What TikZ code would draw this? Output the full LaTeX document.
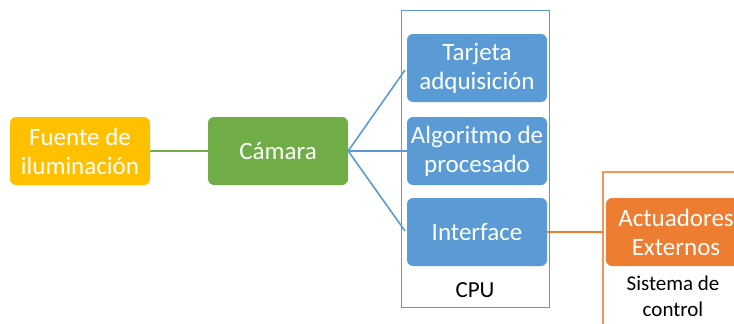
\documentclass[tikz,border=0pt]{standalone}
\usepackage{fontspec}
\setmainfont{Carlito}
\definecolor{lampyellow}{RGB}{255, 192, 0}
\definecolor{camgreen}{RGB}{112, 173, 71}
\definecolor{cpublue}{RGB}{91, 155, 213}
\definecolor{actorange}{RGB}{237, 125, 49}
\usetikzlibrary{positioning}

\begin{document}
\begin{tikzpicture}[x=1pt, y=-1pt,
    block/.style={rounded corners=6pt, minimum width=140pt, minimum height=68pt,
      align=center, text=white, font=\fontsize{25}{29}\selectfont, inner sep=0pt},
    caption/.style={align=center, text=black, inner sep=0pt},
    link/.style={line width=1.6pt}]
  \useasboundingbox (0, 0) rectangle (734, 324);
  \clip (0, 0) rectangle (734, 324);

  % Illumination and camera
  \node[block, fill=lampyellow] (fuente) at (80, 151) {Fuente de\\iluminación};
  \node[block, fill=camgreen] (camara) at (278, 151) {Cámara};
  \draw[link, camgreen] (fuente) -- (camara);

  % CPU frame with its three blocks
  \draw[cpublue, line width=1pt] (401, 10) rectangle (549, 307);
  \node[block, fill=cpublue] (tarjeta) at (477, 68) {Tarjeta\\adquisición};
  \node[block, fill=cpublue] (algoritmo) at (477, 151) {Algoritmo de\\procesado};
  \node[block, fill=cpublue] (interface) at (477, 232) {Interface};
  \node[caption, font=\fontsize{23}{28}\selectfont] (cpu) at (475, 290) {CPU};

  \coordinate (fan) at (camara.east);
  \draw[link, cpublue] (fan) -- (405, 70);
  \draw[link, cpublue] (fan) -- (algoritmo.west);
  \draw[link, cpublue] (fan) -- (405, 231);

  % Control system (runs off the page)
  \draw[actorange!80, line width=1.2pt] (603, 172) rectangle (770, 360);
  \node[block, fill=actorange] (actuadores) at (676, 232) {Actuadores\\Externos};
  \node[caption, font=\fontsize{21}{26}\selectfont] (sistema) at (673, 296) {Sistema de\\control};
  \draw[link, actorange] (interface.east) -- (603, 232);
\end{tikzpicture}
\end{document}
